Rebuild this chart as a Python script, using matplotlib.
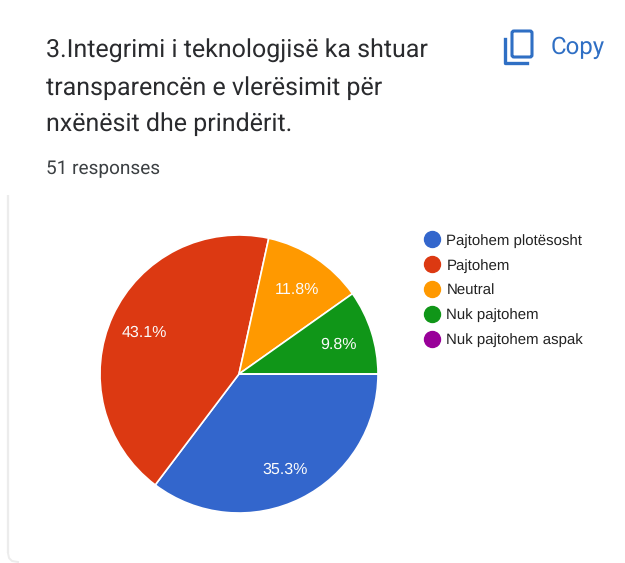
#!/usr/bin/env python

import matplotlib
matplotlib.use('Agg')
import matplotlib.pyplot as plt
from matplotlib.lines import Line2D
from matplotlib.patches import FancyBboxPatch

W, H = 625, 563

title_lines = ['3.Integrimi i teknologjisë ka shtuar',
               'transparencën e vlerësimit për',
               'nxënësit dhe prindërit.']
responses = '51 responses'
labels = ['Pajtohem plotësosht', 'Pajtohem', 'Neutral', 'Nuk pajtohem',
          'Nuk pajtohem aspak']
counts = [18, 22, 6, 5, 0]
colours = ['#3366cc', '#dc3912', '#ff9900', '#109618', '#990099']


def fx(px):
    return px / float(W)


def fy(py):
    return 1 - py / float(H)


def pct_label(p):
    return '%.1f%%' % p if p > 0 else ''


plt.rcParams['text.hinting'] = 'no_hinting'
plt.rcParams['text.hinting_factor'] = 1

fig = plt.figure(figsize=(W / 100., H / 100.), dpi=100, facecolor='white')

# card edge down the left and round the bottom corner
bg = fig.add_axes([0, 0, 1, 1])
bg.set_xlim(0, W)
bg.set_ylim(H, 0)
bg.axis('off')
bg.plot([8, 8], [195, 553], color='#ececec', lw=1.6, solid_capstyle='butt')
bg.plot([8, 9, 12, 18], [553, 558, 561, 562], color='#ececec', lw=1.4)

# copy icon
blue = '#2f6fc4'
bg.add_patch(FancyBboxPatch((512, 31), 20, 26, boxstyle='round,pad=0,rounding_size=2',
                            fill=False, ec=blue, lw=2.2))
bg.plot([505, 505, 527], [39, 62.5, 62.5], color=blue, lw=2.4,
        solid_joinstyle='round')
fig.text(fx(551), fy(48), 'Copy', family='Roboto', fontsize=17.5, color=blue,
         va='center', ha='left')

for line, y in zip(title_lines, [51, 88, 124]):
    fig.text(fx(46), fy(y), line, family='Roboto', fontsize=18.35,
             color='#2a2b2e', va='center', ha='left')
fig.text(fx(46), fy(169), responses, family='Roboto', fontsize=13.9,
         color='#3c4043', va='center', ha='left')

# pie, centre (239, 374) radius 139 in pixels
size = 2 * 139
ax = fig.add_axes([fx(239 - 139), fy(374 + 139), size / float(W), size / float(H)])
wedges, texts, autotexts = ax.pie(counts, colors=colours, startangle=0, counterclock=False,
                                  autopct=pct_label, pctdistance=0.75, radius=1.0,
                                  wedgeprops={'edgecolor': 'white', 'linewidth': 1.2},
                                  textprops={'family': 'Liberation Sans', 'fontsize': 11.2,
                                             'color': '#fbfbfb'})
# the labels sit a touch lower in the original
for t in autotexts:
    x, y = t.get_position()
    t.set_position((x, y - 0.018))
ax.set_xlim(-1, 1)
ax.set_ylim(-1, 1)

handles = [Line2D([], [], ls='none', marker='o', ms=11.5, mfc=c, mec=c) for c in colours]
leg = fig.legend(handles, labels, loc='upper left', bbox_to_anchor=(fx(417), fy(234)),
                 frameon=False, prop={'family': 'Liberation Sans', 'size': 11.15},
                 labelspacing=0.7, handletextpad=-0.1, handlelength=2.0, borderpad=0,
                 borderaxespad=0, labelcolor='#222222')

fig.savefig('out.png', dpi=100)
